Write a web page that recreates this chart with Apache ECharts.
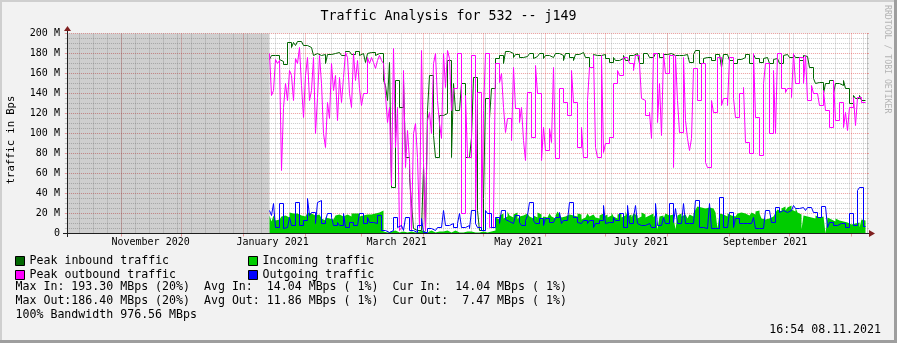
<!DOCTYPE html>
<html><head><meta charset="utf-8">
<script src="https://cdn.jsdelivr.net/npm/echarts@6/dist/echarts.min.js"></script>
<style>html,body{margin:0;padding:0;background:#f2f2f2;}#c{width:897px;height:343px;}</style>
</head><body><div id="c"></div>
<script>
// ---------- chart data ----------
const titleText = 'Traffic Analysis for 532 -- j149';
const yAxisTitle = 'traffic in Bps';
const rangeStart = '2020-10-04T16:54:00Z';
const rangeEnd = '2021-11-08T16:54:00Z';
const dataStart = '2021-01-14T00:00:00Z';   // first day with data (before: unknown, shaded)
const monthStarts = ['2020-11-01','2020-12-01','2021-01-01','2021-02-01','2021-03-01','2021-04-01',
  '2021-05-01','2021-06-01','2021-07-01','2021-08-01','2021-09-01','2021-10-01','2021-11-01'];
const firstWeekLine = '2020-10-11';
const monthLabels = ['November 2020','January 2021','March 2021','May 2021','July 2021','September 2021'];
const monthLabelTimes = ['2020-11-15T13:00:00Z','2021-01-15T13:00:00Z','2021-03-18T13:00:00Z',
  '2021-05-18T10:00:00Z','2021-07-18T19:00:00Z','2021-09-18T20:00:00Z'];
const yMax = 200, yStep = 20;
const seriesNames = ['Peak inbound traffic','Incoming traffic','Peak outbound traffic','Outgoing traffic'];

// daily values in M(bps), from 2021-01-14
const peakIn = [
174,178,178,178,178,174,172,169,169,191,
191,186,191,188,192,192,190,188,188,186,
186,186,178,180,180,178,179,179,170,179,
179,180,180,180,181,182,178,178,182,182,
181,179,179,182,182,178,180,180,171,180,
181,181,181,178,180,180,180,153,148,133,
171,46,46,153,153,126,126,153,76,76,
56,30,5,3,3,3,3,66,3,123,
158,158,98,76,76,118,118,120,120,173,
173,76,150,123,123,123,150,150,76,76,
76,96,156,156,23,3,3,35,135,135,
115,145,145,175,175,178,178,170,182,182,
180,180,176,179,179,176,176,177,177,177,
180,180,175,177,177,180,180,175,178,178,
176,176,175,180,180,178,178,173,180,180,
176,176,173,179,179,181,181,179,176,176,
166,166,179,178,178,178,178,179,175,175,
171,171,176,173,173,175,175,178,173,173,
178,178,176,180,180,170,170,180,180,180,
176,176,176,180,180,176,176,179,179,180,
180,178,178,178,178,178,178,179,179,179,
171,171,179,183,183,170,170,175,176,176,
176,173,173,179,179,179,166,179,179,179,
173,173,170,170,174,174,174,176,179,179,
170,170,179,175,175,171,171,175,176,176,
170,170,174,175,175,170,170,178,179,179,
176,176,179,176,176,173,173,178,177,177,
166,166,155,150,151,151,151,140,150,150,
153,153,140,150,150,148,148,153,145,145,
130,130,138,135,135,138,133,133,133];
const incoming = [
18,12,18,13,14,16,17,18,19,16,
21,20,19,20,22,18,20,17,19,21,
20,22,18,16,19,17,15,13,16,15,
17,14,16,18,19,20,17,18,19,18,
17,20,20,18,20,17,18,16,19,20,
19,21,20,18,21,20,23,2,1,1,
2,1,3,2,1,1,2,3,1,1,
2,1,1,1,2,1,3,1,1,2,
3,2,1,1,2,3,2,1,3,2,
1,2,3,1,1,2,1,1,2,1,
2,1,1,3,1,1,2,2,1,1,
2,1,3,16,14,18,20,15,17,22,
18,16,19,21,14,17,18,16,20,19,
17,15,18,16,21,19,14,17,16,18,
20,17,15,18,22,19,16,17,15,19,
21,18,16,17,20,19,14,16,18,20,
17,19,21,16,15,18,20,17,19,16,
18,21,17,15,19,20,16,18,22,17,
19,16,20,18,15,17,21,19,16,18,
18,20,16,19,4,17,18,15,20,18,
17,19,16,4,18,20,17,19,18,15,
19,17,20,24,27,26,28,25,27,26,
27,25,26,21,5,20,19,18,17,20,
18,19,17,18,20,21,19,20,22,18,
20,21,19,22,23,20,15,14,16,15,
13,17,15,21,24,22,25,27,23,26,
28,24,22,26,21,19,4,18,17,19,
16,17,15,18,16,14,17,15,0,16,
14,13,12,15,13,11,12,10,11,12,
9,11,10,12,11,6,14,13,14];
const peakOut = [
180,138,143,174,170,173,63,126,150,133,
163,158,133,175,170,186,148,116,158,176,
133,143,176,100,136,178,150,100,86,131,
115,170,143,158,113,156,131,156,181,176,
140,126,180,153,173,145,128,140,140,176,
170,176,171,165,173,178,173,170,138,111,
126,48,185,86,126,3,6,163,66,103,
73,3,100,110,76,6,183,71,3,113,
121,100,170,180,133,110,95,180,146,183,
175,123,145,145,180,180,20,20,138,76,
76,178,178,10,141,141,6,123,180,180,
6,6,15,170,170,151,160,126,101,115,
115,93,166,125,125,111,126,93,73,141,
141,96,96,168,140,140,73,106,83,83,
105,91,166,75,75,145,145,131,131,118,
118,163,131,131,86,86,106,76,76,133,
166,166,178,86,76,76,178,81,90,90,
96,96,150,150,163,158,158,176,176,178,
170,170,163,178,178,170,135,133,118,118,
121,95,180,180,111,150,98,180,160,160,
178,178,66,178,133,101,101,176,113,95,
83,95,165,165,133,133,170,170,71,66,
66,133,121,121,176,176,128,135,135,128,
176,176,135,116,116,140,140,146,91,91,
80,80,180,116,116,78,78,150,170,170,
100,100,163,100,180,180,145,145,141,145,
145,136,180,150,150,176,176,150,178,133,
133,148,140,140,140,128,128,143,123,123,
106,106,153,113,113,131,131,106,121,103,
126,126,136,108,136,136,131,131,131];
const outgoing = [
23,18,30,6,6,30,30,5,6,6,
16,8,8,31,31,8,8,13,13,35,
18,21,21,10,31,33,10,10,13,20,
20,16,8,8,11,8,8,20,6,6,
11,11,8,8,10,20,20,10,10,16,
11,11,10,10,18,18,3,3,1,1,
1,3,16,16,6,8,8,3,16,16,
3,3,1,1,8,8,15,1,1,5,
5,3,3,3,6,6,8,23,8,8,
10,10,6,6,10,20,6,6,8,8,
5,23,23,10,6,6,3,3,23,20,
20,6,6,16,16,10,23,23,14,12,
12,10,10,18,18,11,8,8,13,18,
31,31,13,10,10,15,15,8,15,15,
11,11,10,16,16,21,10,13,13,13,
31,31,16,16,11,10,10,13,13,10,
13,13,6,10,10,13,13,28,10,11,
11,11,16,13,13,20,20,6,6,28,
10,10,16,28,10,8,8,8,10,10,
8,6,6,30,8,8,8,16,10,10,
30,30,11,25,10,10,10,30,10,10,
10,10,10,33,33,6,6,5,5,5,
30,5,5,5,5,36,36,6,6,6,
21,21,6,15,15,10,10,10,10,10,
10,10,16,5,5,5,5,6,23,23,
23,11,11,26,26,21,23,23,21,21,
23,23,28,25,25,26,26,26,23,26,
26,26,21,21,16,16,27,27,27,6,
11,11,8,8,8,10,10,10,6,6,
20,20,8,8,43,46,46,7,7];

const statLines = [
  'Max In: 193.30 MBps (20%)  Avg In:  14.04 MBps ( 1%)  Cur In:  14.04 MBps ( 1%)',
  'Max Out:186.40 MBps (20%)  Avg Out: 11.86 MBps ( 1%)  Cur Out:  7.47 MBps ( 1%)',
  '100% Bandwidth 976.56 MBps'
];
const stampText = '16:54 08.11.2021';
const watermark = 'RRDTOOL / TOBI OETIKER';

// ---------- build ----------
const DAY = 86400000;
const MONO = "'DejaVu Sans Mono', monospace";
const startMs = Date.parse(rangeStart), endMs = Date.parse(rangeEnd), d0 = Date.parse(dataStart);
const dayTimes = peakIn.map((_, i) => d0 + i * DAY);
const pairs = arr => arr.map((v, i) => [dayTimes[i], v]);
const monthMs = monthStarts.map(s => Date.parse(s + 'T00:00:00Z'));
const weekMs = [];
for (let t = Date.parse(firstWeekLine + 'T00:00:00Z'); t < endMs; t += 7 * DAY) weekMs.push(t);
const labelMs = monthLabelTimes.map(s => Date.parse(s));

const GRID_C = 'rgba(150,150,150,0.5)';
const MGRID_C = 'rgba(222,79,79,0.55)';
const AXIS_C = '#1f1f1f';
const ARROW_C = '#801f1f';
const legendText = {fontFamily: MONO, fontSize: 11.6, color: '#000', lineHeight: 12};

const chart = echarts.init(document.getElementById('c'), null, {renderer: 'canvas'});
chart.setOption({
  animation: false,
  backgroundColor: '#f2f2f2',
  title: {text: titleText, left: 'center', top: 5,
    textStyle: {fontFamily: MONO, fontSize: 13.3, fontWeight: 'normal', color: '#000'}},
  // fractional offsets put day boundaries / integer values on pixel centres (crisp 1px steps)
  grid: {left: 66.91, top: 33.5, width: 800, height: 200, show: true, backgroundColor: '#ffffff', borderWidth: 0},
  legend: [
    {left: 15, top: 255, padding: 0, orient: 'vertical', itemGap: 2, itemWidth: 9, itemHeight: 9, icon: 'rect',
     selectedMode: false, data: [seriesNames[0], seriesNames[2]], textStyle: legendText,
     itemStyle: {borderColor: '#000', borderWidth: 1}},
    {left: 248, top: 255, padding: 0, orient: 'vertical', itemGap: 2, itemWidth: 9, itemHeight: 9, icon: 'rect',
     selectedMode: false, data: [seriesNames[1], seriesNames[3]], textStyle: legendText,
     itemStyle: {borderColor: '#000', borderWidth: 1}}
  ],
  xAxis: [
    {type: 'value', min: startMs, max: endMs,
     axisLine: {show: false}, axisTick: {show: false, customValues: weekMs}, axisLabel: {show: false},
     splitLine: {show: true, lineStyle: {color: GRID_C, width: 1, type: [1, 1]}}},
    {type: 'value', min: startMs, max: endMs, position: 'bottom',
     axisLine: {show: true, lineStyle: {color: AXIS_C, width: 1}},
     axisTick: {show: true, customValues: monthMs, length: 3, lineStyle: {color: MGRID_C}},
     axisLabel: {show: true, customValues: labelMs, margin: 4, fontFamily: MONO, fontSize: 10, color: '#000',
       formatter: v => { const i = labelMs.indexOf(v); return i >= 0 ? monthLabels[i] : ''; }},
     splitLine: {show: true, lineStyle: {color: MGRID_C, width: 1, type: [1, 1]}}}
  ],
  yAxis: [
    {type: 'value', min: 0, max: yMax, interval: yStep,
     axisLine: {show: true, lineStyle: {color: AXIS_C, width: 1}},
     axisTick: {show: true, length: 2, lineStyle: {color: MGRID_C}},
     minorTick: {show: true, splitNumber: 4, length: 2, lineStyle: {color: GRID_C}},
     axisLabel: {margin: 7, fontFamily: MONO, fontSize: 10, color: '#000',
       formatter: v => v === 0 ? '0' : v + ' M'},
     splitLine: {show: true, lineStyle: {color: MGRID_C, width: 1, type: [1, 1]}},
     minorSplitLine: {show: true, lineStyle: {color: GRID_C, width: 1, type: [1, 1]}}},
    {type: 'value', min: 0, max: yMax, interval: yStep, position: 'right',
     axisLine: {show: true, lineStyle: {color: '#c8c8c8', width: 1}},
     axisTick: {show: true, length: 2, lineStyle: {color: MGRID_C}},
     minorTick: {show: true, splitNumber: 4, length: 2, lineStyle: {color: GRID_C}},
     axisLabel: {show: false}, splitLine: {show: false}}
  ],
  series: [
    {name: seriesNames[1], type: 'line', step: 'end', data: pairs(incoming), xAxisIndex: 0, yAxisIndex: 0,
     showSymbol: false, symbol: 'none', z: 2, color: '#00cc00',
     lineStyle: {width: 0, color: '#00cc00'}, areaStyle: {color: '#00cc00', opacity: 1},
     markArea: {silent: true, itemStyle: {color: 'rgba(0,0,0,0.19)'},
       data: [[{xAxis: startMs}, {xAxis: d0}]]}},
    {name: seriesNames[0], type: 'line', step: 'end', data: pairs(peakIn), showSymbol: false, symbol: 'none',
     z: 3, color: '#006600', lineStyle: {width: 1, color: '#006600'}},
    {name: seriesNames[2], type: 'line', step: 'end', data: pairs(peakOut), showSymbol: false, symbol: 'none',
     z: 4, color: '#ff00ff', lineStyle: {width: 1, color: '#ff00ff'}},
    {name: seriesNames[3], type: 'line', step: 'end', data: pairs(outgoing), showSymbol: false, symbol: 'none',
     z: 5, color: '#0000ff', lineStyle: {width: 1, color: '#0000ff'}}
  ],
  graphic: [
    {type: 'rect', shape: {x: 0, y: 0, width: 897, height: 2}, style: {fill: '#cfcfcf'}, silent: true},
    {type: 'rect', shape: {x: 0, y: 0, width: 2, height: 343}, style: {fill: '#cfcfcf'}, silent: true},
    {type: 'rect', shape: {x: 0, y: 340, width: 897, height: 3}, style: {fill: '#9e9e9e'}, silent: true},
    {type: 'rect', shape: {x: 894, y: 0, width: 3, height: 343}, style: {fill: '#9e9e9e'}, silent: true},
    {type: 'line', shape: {x1: 67.5, y1: 30, x2: 67.5, y2: 237}, style: {stroke: AXIS_C, lineWidth: 1}, silent: true, z: 50},
    {type: 'line', shape: {x1: 63, y1: 233.5, x2: 870, y2: 233.5}, style: {stroke: AXIS_C, lineWidth: 1}, silent: true, z: 50},
    {type: 'polygon', shape: {points: [[64, 31], [67.5, 26], [71, 31]]}, style: {fill: ARROW_C}, silent: true, z: 51},
    {type: 'polygon', shape: {points: [[869, 230], [875, 233.5], [869, 237]]}, style: {fill: ARROW_C}, silent: true, z: 51},
    {type: 'text', x: 11, y: 140, rotation: Math.PI / 2, silent: true,
     style: {text: yAxisTitle, fontFamily: MONO, fontSize: 10.5, fill: '#000', align: 'center', verticalAlign: 'middle'}},
    {type: 'text', x: 887, y: 5, rotation: -Math.PI / 2, silent: true,
     style: {text: watermark, fontFamily: MONO, fontSize: 8.2, fill: '#b4b4b4', align: 'left', verticalAlign: 'middle'}},
    ...statLines.map((s, i) => ({type: 'text', x: 15.5, y: 287 + i * 14, silent: true,
      style: {text: s, fontFamily: MONO, fontSize: 11.6, fill: '#000', align: 'left', verticalAlign: 'middle'}})),
    {type: 'text', x: 881, y: 330, silent: true,
     style: {text: stampText, fontFamily: MONO, fontSize: 11.6, fill: '#000', align: 'right', verticalAlign: 'middle'}}
  ]
});
</script></body></html>
